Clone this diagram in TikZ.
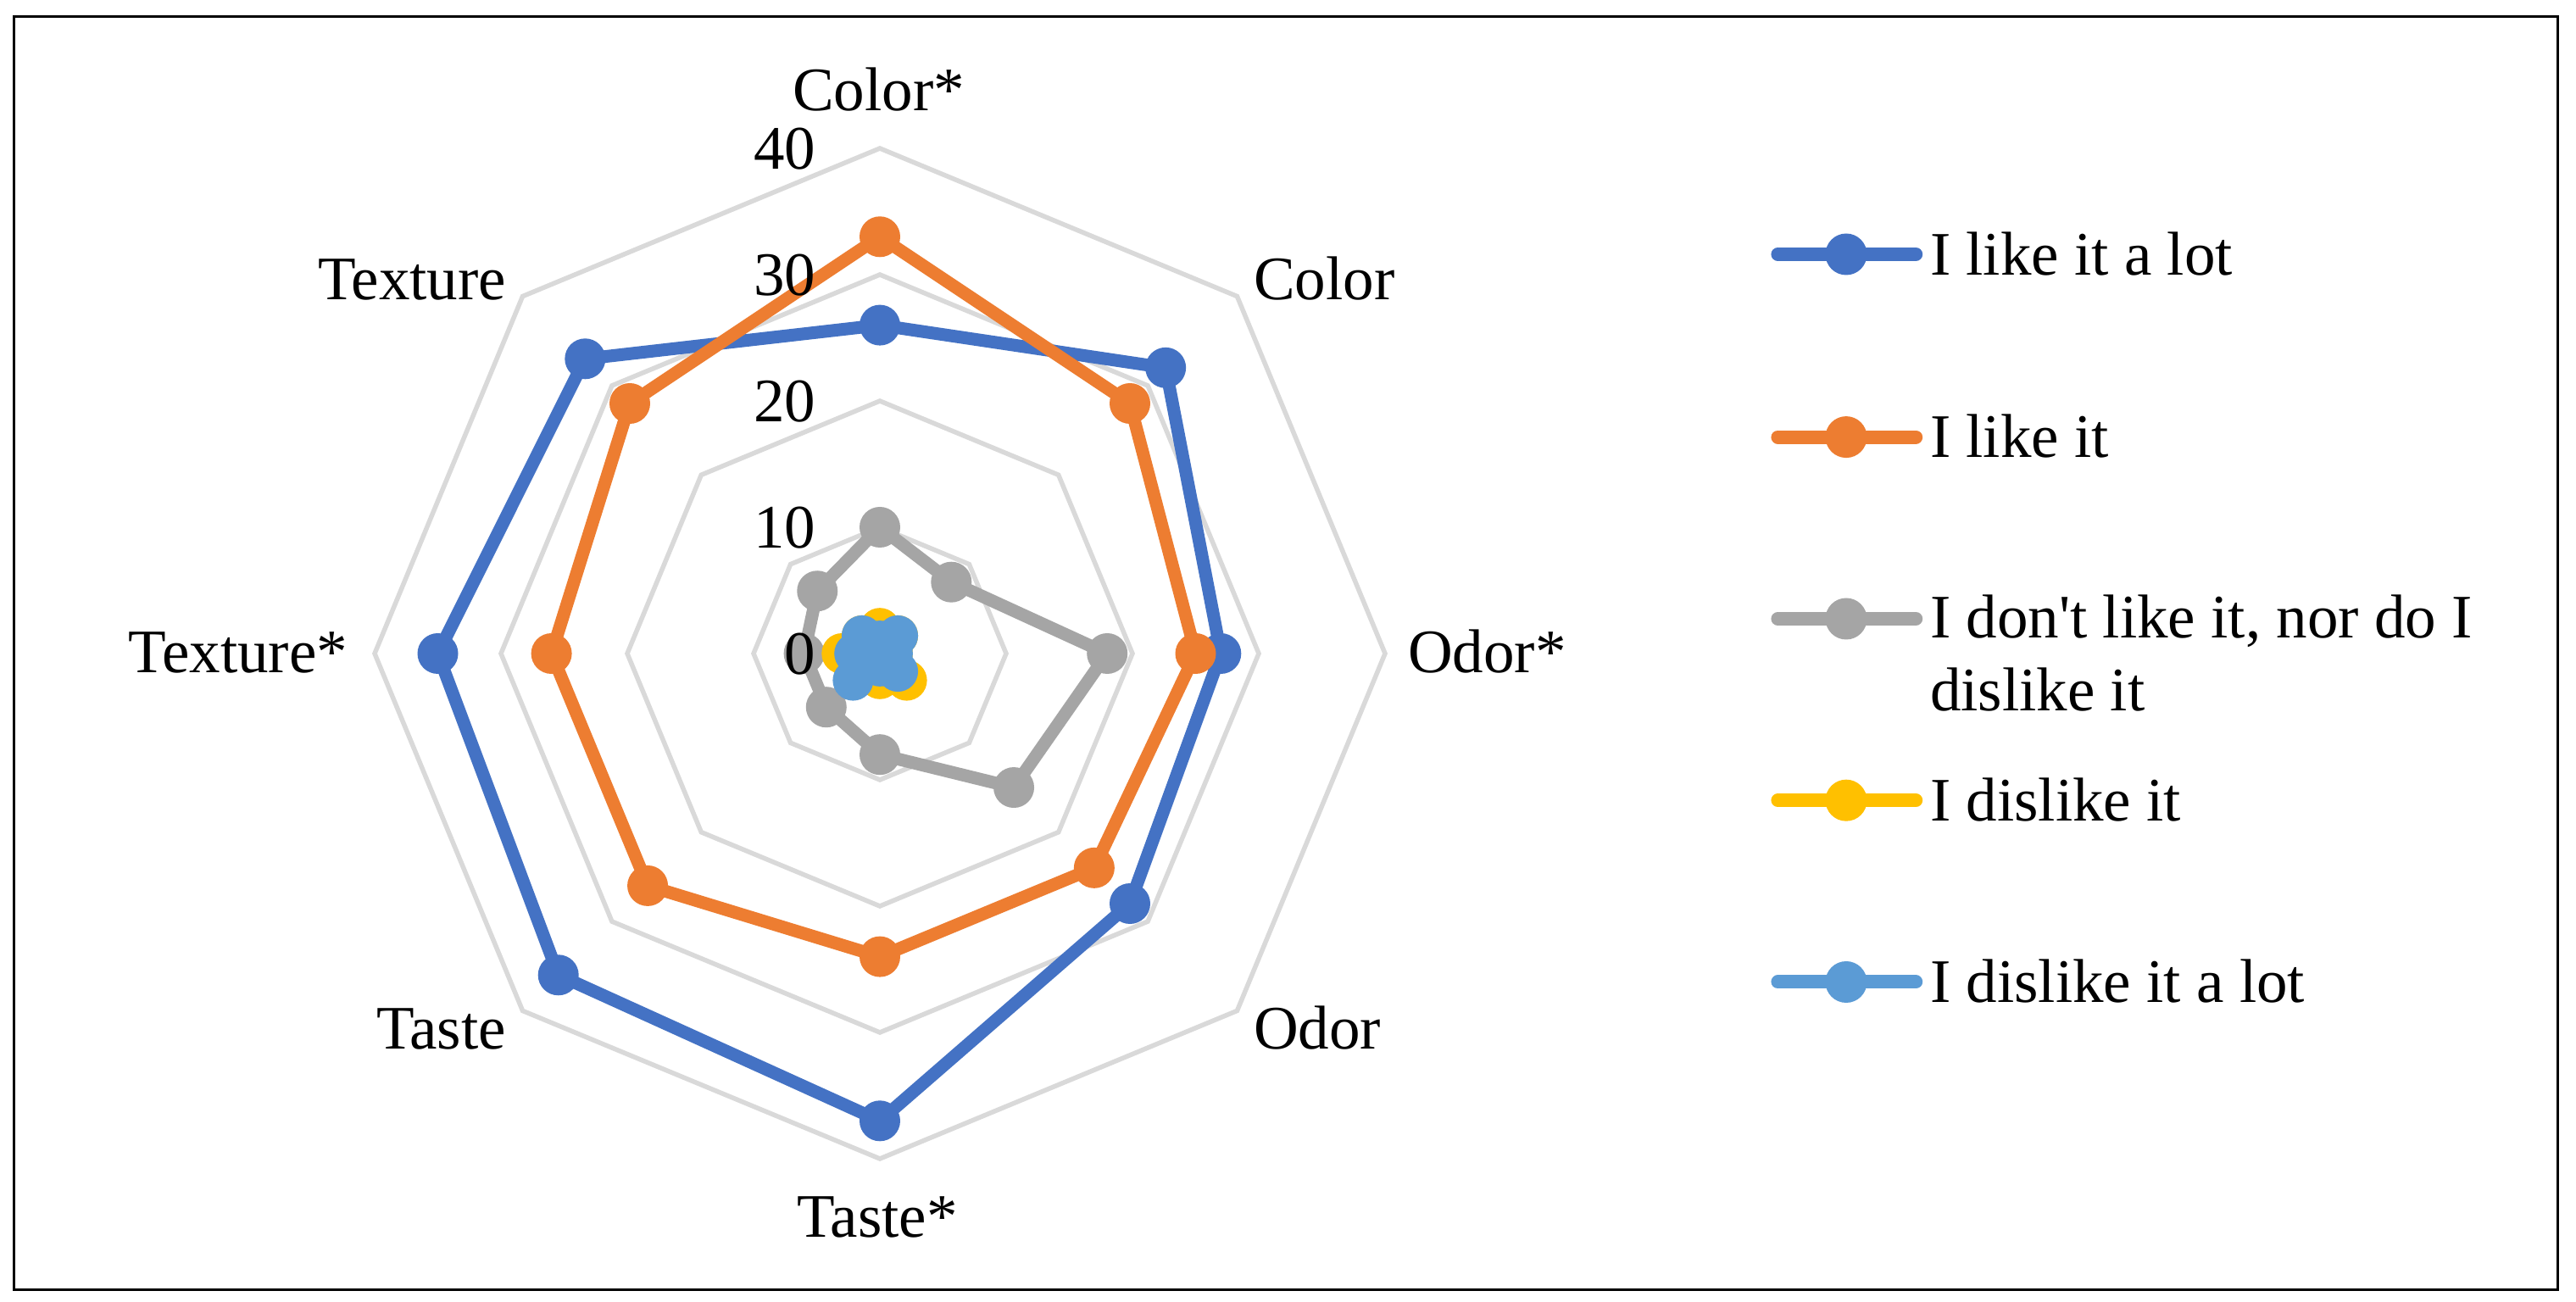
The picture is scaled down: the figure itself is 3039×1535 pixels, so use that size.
\documentclass[tikz,border=0pt]{standalone}
\usepackage{fontspec}
\setmainfont{Liberation Serif}[Ligatures=TeXOff]
\definecolor{sA}{HTML}{4472C4}
\definecolor{sB}{HTML}{ED7D31}
\definecolor{sC}{HTML}{A5A5A5}
\definecolor{sD}{HTML}{FFC000}
\definecolor{sE}{HTML}{5B9BD5}
\definecolor{gridc}{HTML}{D9D9D9}
\tikzset{
  lbl/.style={inner sep=0pt, outer sep=0pt, font=\fontsize{73}{86}\selectfont},
  gridline/.style={draw=gridc, line width=5.5pt, line join=miter},
  serline/.style={line width=15pt, line join=round},
  legline/.style={line width=16pt, line cap=round},
  mk/.style={radius=24},
}
\begin{document}
\begin{tikzpicture}[x=1pt,y=1pt]
\useasboundingbox (0,0) rectangle (3039,1535);
\fill[white] (0,0) rectangle (3039,1535);
\draw[line width=3pt] (16,14) rectangle (3017,1515);

\begin{scope}[shift={(1038,764)}]
  % grid rings
  \foreach \k in {1,...,4}{
    \pgfmathsetmacro\rr{149*\k}
    \draw[gridline] (90:\rr) \foreach \j in {1,...,7}{ -- ({90-45*\j}:\rr) } -- cycle;
  }
  % data points
  \foreach \v [count=\i from 0] in {26,32,27,28,37,36,35,33}
    \coordinate (A\i) at ({90-45*\i}:{14.9*\v});
  \foreach \v [count=\i from 0] in {33,28,25,24,24,26,26,28}
    \coordinate (B\i) at ({90-45*\i}:{14.9*\v});
  \foreach \v [count=\i from 0] in {10,8,18,15,8,6,6,7}
    \coordinate (C\i) at ({90-45*\i}:{14.9*\v});
  \foreach \v [count=\i from 0] in {2,2,1,3,2,1,3,2}
    \coordinate (D\i) at ({90-45*\i}:{14.9*\v});
  \foreach \v [count=\i from 0] in {1,2,1,2,1,3,2,2}
    \coordinate (E\i) at ({90-45*\i}:{14.9*\v});
\end{scope}

% series
\foreach \s in {A,B,C,D,E}{
  \draw[serline, s\s] (\s0) \foreach \i in {1,...,7}{ -- (\s\i) } -- cycle;
  \foreach \i in {0,...,7} \fill[s\s] (\s\i) circle[mk];
}

% axis value labels
\foreach \k in {0,...,4}{
  \pgfmathtruncatemacro\val{10*\k}
  \node[lbl, anchor=base east] (ax\k) at (962, {739.3+149*\k}) {\val};
}

% category labels
\node[lbl, anchor=base] (colorS) at (1036.5,1404.3) {Color*};
\node[lbl, anchor=base west] (color) at (1479,1181) {Color};
\node[lbl, anchor=base west] (odorS) at (1661,741) {Odor*};
\node[lbl, anchor=base west] (odor) at (1479,297) {Odor};
\node[lbl, anchor=base] (tasteS) at (1035,75.7) {Taste*};
\node[lbl, anchor=base east] (taste) at (597,297) {Taste};
\node[lbl, anchor=base east] (textureS) at (410,741) {Texture*};
\node[lbl, anchor=base east] (texture) at (597,1181) {Texture};

% legend
\foreach \s/\yy in {A/1235, B/1019.4, C/805, D/590.8, E/376.5}{
  \coordinate (L\s a) at (2097.4,\yy);
  \coordinate (L\s b) at (2260.2,\yy);
  \coordinate (L\s m) at (2178,\yy);
  \draw[legline, s\s] (L\s a) -- (L\s b);
  \fill[s\s] (L\s m) circle[radius=24.5];
}
\node[lbl, anchor=base west] (legA) at (2277,1210.7) {I like it a lot};
\node[lbl, anchor=base west] (legB) at (2277,995.1) {I like it};
\node[lbl, anchor=base west, align=left] (legC) at (2277,696) {I don't like it, nor do I\\dislike it};
\node[lbl, anchor=base west] (legD) at (2277,566.5) {I dislike it};
\node[lbl, anchor=base west] (legE) at (2277,352.2) {I dislike it a lot};
\end{tikzpicture}
\end{document}
